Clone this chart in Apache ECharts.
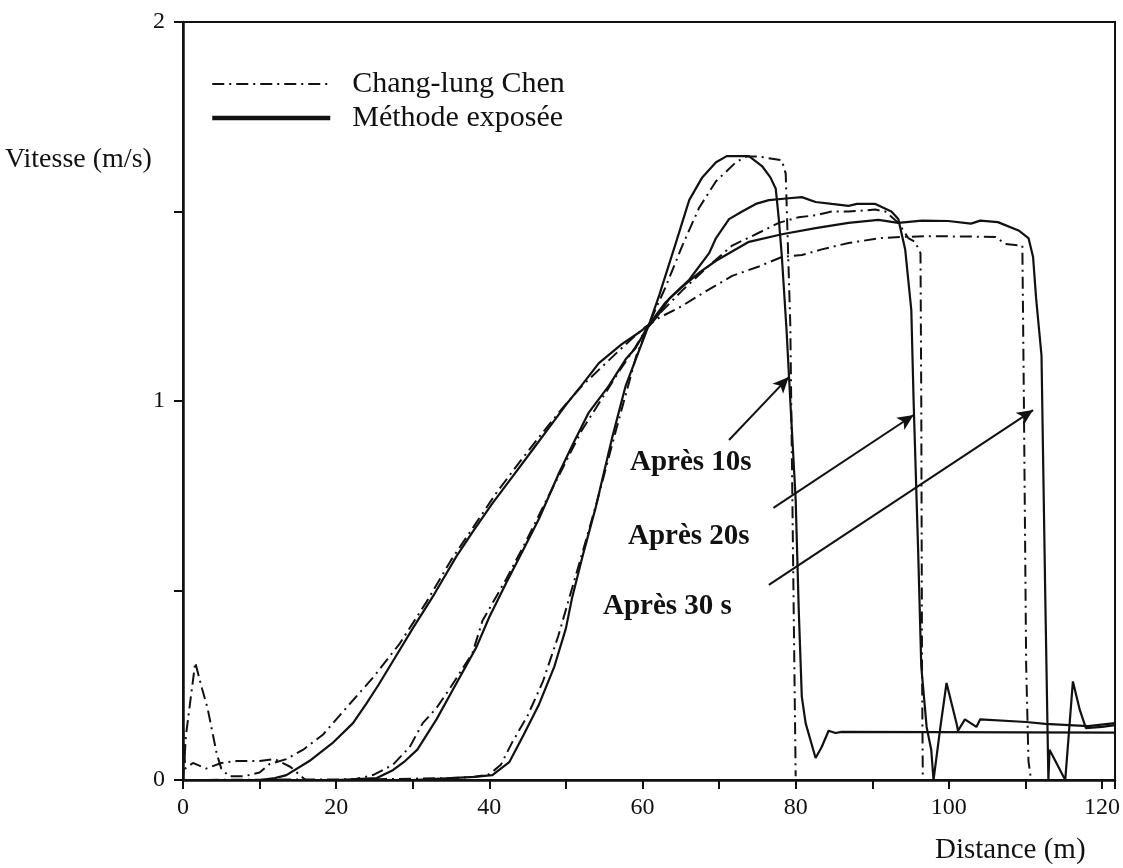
<!DOCTYPE html>
<html>
<head>
<meta charset="utf-8">
<script src="https://cdn.jsdelivr.net/npm/echarts@6/dist/echarts.min.js"></script>
<style>
  html, body { margin: 0; padding: 0; background: #fff; }
  #chart { width: 1123px; height: 868px; }
</style>
</head>
<body>
<div id="chart"></div>
<script>
// valeurs : [distance (m), vitesse (m/s)]
var chen10 = [[0,0],[25,0.002],[35,0.005],[38,0.008],[40,0.015],[41.5,0.04],[43,0.1],[45,0.17],[47,0.26],[49,0.38],[51.3,0.54],[54,0.73],[56.5,0.92],[59.2,1.12],[61,1.21],[63,1.3],[65.2,1.41],[67.4,1.51],[69.6,1.58],[72.2,1.63],[73.5,1.645],[75.2,1.645],[78.2,1.635],[78.7,1.6],[79.3,1.2],[80,0.01]];
var chen20 = [[0,0.14],[0.3,0.03],[1.3,0.045],[3,0.03],[5,0.045],[7,0.05],[10,0.05],[12,0.055],[14,0.035],[16,0],[22,0],[24.8,0.013],[27.4,0.04],[29.6,0.087],[31.3,0.15],[33.1,0.19],[34.8,0.24],[37.8,0.335],[39.1,0.42],[42.2,0.53],[44.8,0.63],[47,0.72],[49.5,0.82],[52,0.92],[54.5,1.0],[57,1.08],[59,1.14],[60.5,1.19],[62.2,1.23],[65.1,1.29],[68.3,1.35],[71.7,1.41],[74.8,1.44],[77.8,1.47],[80.4,1.485],[82.6,1.49],[84.7,1.5],[86.9,1.5],[90.4,1.505],[91.7,1.5],[93.4,1.47],[94.7,1.43],[95.6,1.42],[96.3,1.39],[96.4,1.0],[96.5,0.3],[96.6,0.01]];
var chen30 = [[0,0],[0.4,0.12],[1.6,0.31],[2.5,0.24],[3.2,0.19],[3.8,0.13],[4.4,0.07],[5,0.03],[6,0.01],[8,0.01],[10,0.02],[11.3,0.042],[13.5,0.055],[15.7,0.08],[18.3,0.12],[21.3,0.19],[24.8,0.27],[28.3,0.36],[31.8,0.47],[35,0.58],[38,0.67],[41,0.76],[44,0.84],[46.9,0.915],[49.5,0.98],[52.1,1.04],[54.7,1.09],[57.3,1.14],[60,1.19],[62.2,1.22],[65.1,1.25],[68.3,1.29],[71.7,1.33],[75.2,1.355],[78.2,1.38],[80.8,1.385],[83.4,1.4],[86.9,1.417],[91.2,1.43],[93.8,1.433],[97.7,1.435],[106.1,1.433],[107.4,1.414],[109.6,1.41],[109.8,1.0],[110.1,0.3],[110.4,0.05],[110.7,0.005]];
var meth10 = [[0,0],[30,0],[35,0.005],[38,0.008],[40.4,0.013],[42.6,0.047],[44.5,0.12],[46.5,0.2],[48.5,0.3],[50,0.4],[50.8,0.48],[52.3,0.6],[53.9,0.72],[56,0.9],[57.8,1.04],[59.5,1.13],[61,1.21],[62.2,1.28],[64.4,1.42],[66.1,1.53],[67.8,1.59],[69.6,1.63],[71,1.646],[73.9,1.646],[75.6,1.62],[76.7,1.59],[77.4,1.56],[77.8,1.48],[78.2,1.38],[78.8,1.19],[79.3,1.0],[80,0.74],[80.4,0.45],[80.8,0.22],[81.3,0.15],[82.6,0.058],[83.4,0.087],[84.3,0.13],[85.2,0.124],[86,0.127],[121.7,0.125]];
var meth20 = [[0,0],[20,0],[22,0.002],[25.3,0.005],[27.4,0.026],[29,0.05],[30.6,0.08],[33.1,0.16],[35.2,0.237],[38.3,0.35],[40,0.43],[42.2,0.52],[44.5,0.61],[46.5,0.69],[47.8,0.75],[49.1,0.81],[51,0.89],[53,0.97],[55.6,1.04],[57.8,1.11],[59.1,1.14],[60.5,1.19],[61.8,1.22],[63.5,1.27],[66.1,1.32],[68.7,1.39],[69.6,1.43],[71.3,1.48],[73,1.5],[74.8,1.52],[76.5,1.53],[79.1,1.535],[80.8,1.538],[82.6,1.525],[84.7,1.52],[86.9,1.515],[88,1.52],[90.4,1.52],[92.5,1.5],[93.4,1.48],[94.3,1.4],[95.1,1.24],[95.4,1.0],[96,0.6],[96.4,0.3],[97.1,0.14],[97.7,0.08],[98,0],[98.9,0.14],[99.7,0.256],[101,0.15],[101.2,0.13],[102.1,0.16],[103.6,0.14],[104.1,0.16],[110.1,0.153],[112.6,0.148],[118.2,0.142],[121.7,0.15]];
var meth30 = [[0,0],[10,0],[12,0.005],[13.5,0.013],[16.5,0.05],[19.5,0.097],[22.2,0.15],[23.9,0.2],[25.5,0.25],[27.6,0.32],[30,0.4],[32.8,0.49],[35.7,0.59],[38,0.66],[40.4,0.73],[43,0.8],[45.6,0.87],[47.8,0.93],[50,0.99],[52,1.04],[54.3,1.1],[57.3,1.15],[59.5,1.18],[60.8,1.2],[63,1.26],[65.1,1.3],[67.5,1.34],[69.6,1.37],[73.9,1.42],[78.2,1.44],[82.6,1.456],[86.9,1.47],[90.8,1.478],[93.4,1.47],[96.5,1.476],[99.9,1.475],[102.9,1.468],[104.1,1.476],[106.4,1.472],[109.1,1.45],[110.4,1.43],[111,1.38],[111.4,1.27],[112.1,1.12],[112.6,0.475],[113,0],[113.15,0.08],[115.2,0],[116.2,0.26],[117.1,0.185],[117.9,0.137],[120,0.14],[121.7,0.145]];

// flèches : [départ, pointe]
var arrows = [
  [[71.3, 0.897], [79.1, 1.063]],
  [[77.1, 0.718], [95.4, 0.963]],
  [[76.5, 0.515], [111.0, 0.976]]
];
var arrowLabels = ['Après 10s', 'Après 20s', 'Après 30 s'];

var serif = '"Liberation Serif", "Times New Roman", serif';
var chenStyle = { color: '#111', width: 2, type: [12, 5, 2, 5] };
var methStyle = { color: '#111', width: 2.2, type: 'solid' };

function mkSeries(name, data, style) {
  return {
    name: name,
    type: 'line',
    data: data,
    symbol: 'none',
    showSymbol: false,
    smooth: false,
    silent: true,
    lineStyle: style,
    itemStyle: { color: '#111' }
  };
}

var series = [
  mkSeries('Chang-lung Chen', chen10, chenStyle),
  mkSeries('Chang-lung Chen', chen20, chenStyle),
  mkSeries('Chang-lung Chen', chen30, chenStyle),
  mkSeries('Méthode exposée', meth10, methStyle),
  mkSeries('Méthode exposée', meth20, methStyle),
  mkSeries('Méthode exposée', meth30, methStyle)
];
series[3].markLine = {
  silent: true,
  symbol: ['none', 'arrow'],
  symbolSize: [11, 16],
  label: { show: false },
  lineStyle: { color: '#111', width: 2, type: 'solid' },
  data: arrows.map(function (a) { return [{ coord: a[0] }, { coord: a[1] }]; })
};

var chart = echarts.init(document.getElementById('chart'));
chart.setOption({
  animation: false,
  backgroundColor: '#fff',
  grid: {
    left: 183, top: 22, width: 934, height: 758,
    show: true, borderColor: '#111', borderWidth: 2
  },
  legend: {
    orient: 'vertical',
    left: 205, top: 64,
    itemWidth: 118, itemHeight: 2, itemGap: 4,
    itemStyle: { opacity: 0 },
    textStyle: { fontFamily: serif, fontSize: 30, color: '#111', padding: [0, 0, 0, 17] },
    data: [
      { name: 'Chang-lung Chen' },
      { name: 'Méthode exposée', lineStyle: { width: 4.5 } }
    ]
  },
  xAxis: {
    type: 'value',
    min: 0, max: 121.7, interval: 10,
    axisLine: { lineStyle: { color: '#111', width: 2.5 } },
    axisTick: { inside: false, length: 9, lineStyle: { color: '#111', width: 2 } },
    splitLine: { show: false },
    axisLabel: {
      margin: 16, fontFamily: serif, fontSize: 24, color: '#111',
      formatter: function (v) { return (v % 20 === 0) ? String(v) : ''; }
    }
  },
  yAxis: {
    type: 'value',
    min: 0, max: 2, interval: 0.5,
    axisLine: { lineStyle: { color: '#111', width: 2.5 } },
    axisTick: { inside: false, length: 9, lineStyle: { color: '#111', width: 2 } },
    splitLine: { show: false },
    axisLabel: {
      margin: 18, fontFamily: serif, fontSize: 24, color: '#111',
      formatter: function (v) { return (v % 1 === 0) ? String(v) : ''; }
    }
  },
  graphic: [
    { type: 'text', x: 5, y: 160, style: { text: 'Vitesse (m/s)', font: '28px ' + serif, fill: '#111', verticalAlign: 'middle' } },
    { type: 'text', x: 935, y: 850, style: { text: 'Distance (m)', font: '29px ' + serif, fill: '#111', verticalAlign: 'middle' } },
    { type: 'text', x: 630, y: 463, style: { text: arrowLabels[0], font: 'bold 29px ' + serif, fill: '#111', verticalAlign: 'middle' } },
    { type: 'text', x: 628, y: 537, style: { text: arrowLabels[1], font: 'bold 29px ' + serif, fill: '#111', verticalAlign: 'middle' } },
    { type: 'text', x: 603, y: 607, style: { text: arrowLabels[2], font: 'bold 29px ' + serif, fill: '#111', verticalAlign: 'middle' } }
  ],
  series: series
});
</script>
</body>
</html>
